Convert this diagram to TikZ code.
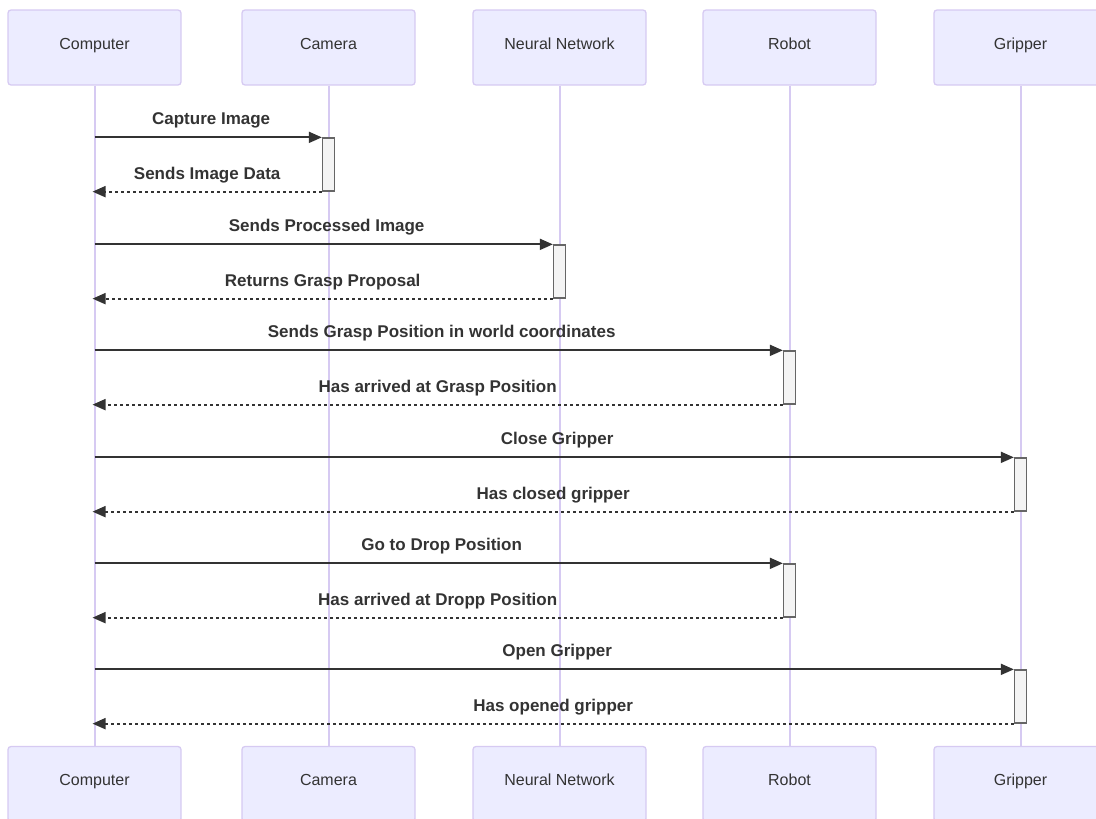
\documentclass[tikz,border=0pt]{standalone}
\usepackage{fontspec}
\setmainfont{Liberation Sans}
\usetikzlibrary{arrows.meta,calc}
\definecolor{actfill}{HTML}{ECECFF}
\definecolor{actline}{RGB}{214,202,242}
\definecolor{txt}{HTML}{333333}
\definecolor{actv}{HTML}{F4F4F4}
\definecolor{actvline}{HTML}{666666}
\tikzset{
  actor/.style={draw=actline, fill=actfill, line width=1.3pt, rounded corners=3pt, minimum width=173pt, minimum height=75pt, inner sep=0pt},
  actortext/.style={anchor=base, font=\fontsize{16pt}{18pt}\selectfont, text=txt, inner sep=0pt},
  lifeline/.style={draw=actline, line width=2pt},
  activ/.style={draw=actvline, fill=actv, line width=1.3pt, minimum width=12pt, minimum height=53pt, inner sep=0pt},
  msg/.style={draw=txt, line width=1.8pt, -{Triangle[length=13pt,width=11pt]}},
  reply/.style={msg, dash pattern=on 3pt off 3pt},
  lbl/.style={anchor=base, yshift=12.5pt, font=\bfseries\fontsize{17pt}{19pt}\selectfont, text=txt, inner sep=0pt},
  lblm/.style={lbl, xshift=3pt}
}
\begin{document}
\begin{tikzpicture}[x=1pt,y=-1pt]
\useasboundingbox (0,0) rectangle (1096,819);
\clip (0,0) rectangle (1096,819);
% top actors
\node[actor] (cT) at (94.5,47.5) {};
\node[actor] (kT) at (328.5,47.5) {};
\node[actor] (nT) at (559.5,47.5) {};
\node[actor] (rT) at (789.5,47.5) {};
\node[actor] (gT) at (1020.5,47.5) {};
% bottom actors
\node[actor] (cB) at (94.5,784) {};
\node[actor] (kB) at (328.5,784) {};
\node[actor] (nB) at (559.5,784) {};
\node[actor] (rB) at (789.5,784) {};
\node[actor] (gB) at (1020.5,784) {};
% lifelines
\draw[lifeline] (cT.south) -- (cB.north);
\draw[lifeline] (kT.south) -- (kB.north);
\draw[lifeline] (nT.south) -- (nB.north);
\draw[lifeline] (rT.south) -- (rB.north);
\draw[lifeline] (gT.south) -- (gB.north);
% actor texts
\foreach \n/\t in {c/Computer,k/Camera,n/Neural Network,r/Robot,g/Gripper}{
  \node[actortext] (\n Tt) at ([yshift=-1.5pt]\n T.center) {\t};
  \node[actortext] (\n Bt) at ([yshift=-1.5pt]\n B.center) {\t};
}
% activations
\node[activ] (a1) at (328.5,164.5) {};
\node[activ] (a2) at (559.5,271.5) {};
\node[activ] (a3) at (789.5,377.5) {};
\node[activ] (a4) at (1020.5,484.5) {};
\node[activ] (a5) at (789.5,590.5) {};
\node[activ] (a6) at (1020.5,696.5) {};
% messages
\draw[msg] (cT.south |- a1.north west) -- node[lblm] (m1) {Capture Image} (a1.north west);
\draw[reply] (a1.south west) -- node[lbl] (m2) {Sends Image Data} ([xshift=-2pt]cT.south |- a1.south west);
\draw[msg] (cT.south |- a2.north west) -- node[lblm] (m3) {Sends Processed Image} (a2.north west);
\draw[reply] (a2.south west) -- node[lbl] (m4) {Returns Grasp Proposal} ([xshift=-2pt]cT.south |- a2.south west);
\draw[msg] (cT.south |- a3.north west) -- node[lblm] (m5) {Sends Grasp Position in world coordinates} (a3.north west);
\draw[reply] (a3.south west) -- node[lbl] (m6) {Has arrived at Grasp Position} ([xshift=-2pt]cT.south |- a3.south west);
\draw[msg] (cT.south |- a4.north west) -- node[lblm] (m7) {Close Gripper} (a4.north west);
\draw[reply] (a4.south west) -- node[lbl] (m8) {Has closed gripper} ([xshift=-2pt]cT.south |- a4.south west);
\draw[msg] (cT.south |- a5.north west) -- node[lblm] (m9) {Go to Drop Position} (a5.north west);
\draw[reply] (a5.south west) -- node[lbl] (m10) {Has arrived at Dropp Position} ([xshift=-2pt]cT.south |- a5.south west);
\draw[msg] (cT.south |- a6.north west) -- node[lblm] (m11) {Open Gripper} (a6.north west);
\draw[reply] (a6.south west) -- node[lbl] (m12) {Has opened gripper} ([xshift=-2pt]cT.south |- a6.south west);
\end{tikzpicture}
\end{document}
